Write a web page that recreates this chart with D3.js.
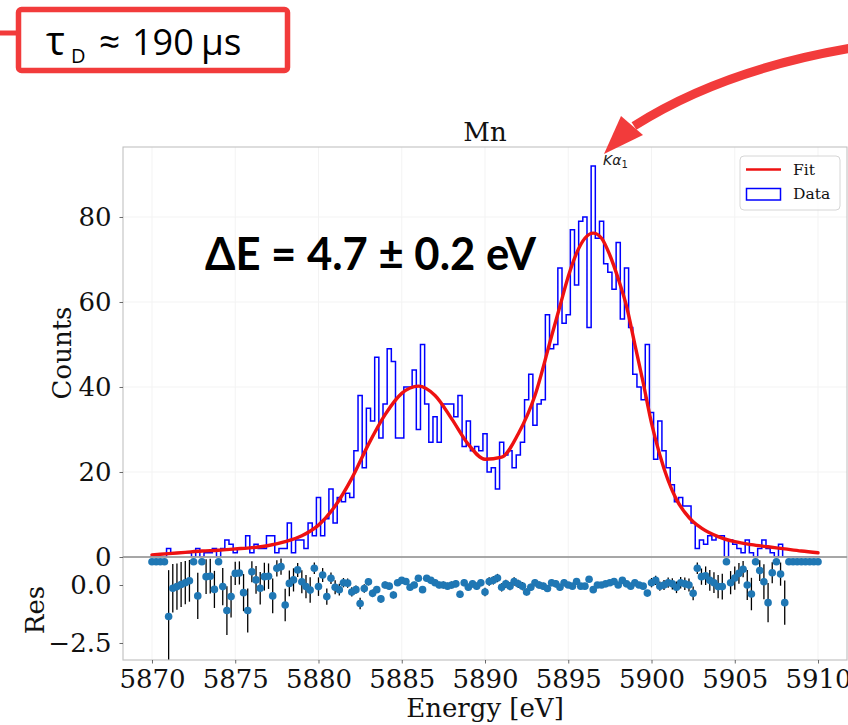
<!DOCTYPE html>
<html>
<head>
<meta charset="utf-8">
<script src="https://cdn.jsdelivr.net/npm/d3@7"></script>
<style>
  html, body { margin: 0; padding: 0; background: #ffffff; }
  svg { display: block; }
</style>
</head>
<body>
<svg id="chart" width="848" height="725"></svg>
<script>
// ---------------- data ----------------
// Histogram bins: 0.25 eV wide, first bin centred on 5870 eV
const binStart = 5870;
const binWidth = 0.25;
const counts = [
  0,0,0,0,2,1,1,1,1,1,
  0,2,0,1,1,2,0,2,4,3,
  1,2,2,5,1,3,2,2,5,5,
  1,2,2,8,1,4,4,2,8,5,
  14,5,9,16,8,14,13,15,14,25,
  38,21,35,32,47,28,36,49,46,28,
  28,40,40,44,30,50,36,27,33,27,
  36,36,36,33,38,26,32,25,26,25,
  29,20,21,16,27,24,25,21,24,27,
  37,43,31,36,37,57,49,50,68,55,
  57,77,64,79,80,54,92,75,79,69,
  67,63,74,56,68,54,43,40,37,50,
  34,23,32,25,21,17,13,14,12,12,
  8,2,4,3,5,4,5,5,0,4,
  3,2,1,4,1,0,2,4,2,1,
  0,3,0,0,0,0,0,0,0,0,0
];

// Fitted line profile (eV, counts)
const fitEnergy = [5870,5871,5872,5873,5874,5875,5876,5877,5878,5879,5880,5881,5882,5883,5884,5885,5886,5887,5888,5889,5890,5891,5892,5893,5894,5894.5,5895,5895.5,5896,5896.5,5897,5897.5,5898,5898.5,5899,5899.5,5900,5900.5,5901,5901.5,5902,5902.5,5903,5904,5905,5906,5907,5908,5909,5910];
const fitCounts = [0.5,0.8,1.1,1.4,1.6,1.9,2.2,2.7,3.6,5.0,7.5,12,18.5,26.5,33.5,38.5,40.2,38,32.5,26.5,23,23.5,29,38,52,59,66,71.5,75,76.2,75,71,65.5,59,50,41,31.5,24,18,13.5,10.5,8.3,6.8,4.8,3.6,2.9,2.4,1.9,1.4,1.0];

// Relative residual per bin and its error
const residuals = [
  1,1,1,1,-1.36,-0.14,-0.07,0.02,0.1,0.18,
  1,-0.47,1,0.36,0.38,-0.19,1,-0.07,-1.1,-0.5,
  0.5,0.52,-0.33,-1.1,0.57,0.22,-0.14,0.36,0.38,-0.47,
  0.72,0.79,-0.86,0.07,0.22,0.65,0.14,-0.07,-0.22,0.72,
  -0.07,0.43,-0.5,0.29,-0.1,-0.2,0.1,0.08,-0.3,-0.2,
  -0.8,-0.15,0.14,-0.36,-0.2,-0.6,0.0,-0.05,-0.43,0.1,
  0.2,0.15,-0.1,0.0,0.29,-0.2,0.29,0.2,0.1,0.0,
  0.0,-0.05,0.0,0.05,-0.4,0.1,-0.1,0.05,-0.05,0.1,
  -0.3,0.15,0.2,0.3,-0.1,0.05,-0.05,0.15,0.05,-0.05,
  -0.3,-0.1,0.1,0.0,-0.05,-0.15,0.1,0.05,-0.1,0.1,
  0.0,-0.05,0.15,-0.05,-0.05,0.25,-0.2,0.0,0.0,0.05,
  0.1,0.15,0.0,0.2,0.05,-0.05,0.1,0.0,-0.05,-0.35,
  0.1,0.2,-0.05,0.0,0.1,0.05,-0.1,0.1,0.05,0.0,
  -0.36,0.72,0.36,0.4,0.2,0.1,-0.07,-0.07,1,0.1,
  0.3,0.5,0.68,0.0,-0.39,1,0.62,0.14,-0.76,0.53,
  1,0.47,-0.76,1,1,1,1,1,1,1,1
];
const residualErrors = [
  0,0,0,0,2.0,1.05,1.0,0.97,0.93,0.9,
  0,1.0,0,0.75,0.75,0.8,0,0.8,1.05,0.9,
  0.5,0.5,0.8,0.95,0.45,0.6,0.7,0.6,0.55,0.75,
  0.35,0.35,0.7,0.55,0.5,0.3,0.5,0.5,0.55,0.25,
  0.4,0.3,0.35,0.25,0.3,0.25,0.2,0.2,0.2,0.18,
  0.25,0.18,0.16,0.16,0.15,0.16,0.15,0.15,0.15,0.14,
  0.14,0.14,0.14,0.14,0.14,0.14,0.14,0.14,0.14,0.14,
  0.15,0.15,0.15,0.15,0.15,0.15,0.15,0.15,0.15,0.15,
  0.18,0.18,0.18,0.18,0.18,0.18,0.18,0.18,0.18,0.18,
  0.15,0.15,0.15,0.15,0.15,0.15,0.15,0.15,0.15,0.15,
  0.12,0.12,0.12,0.12,0.12,0.12,0.12,0.12,0.12,0.12,
  0.13,0.13,0.13,0.13,0.13,0.13,0.13,0.13,0.13,0.13,
  0.2,0.2,0.2,0.22,0.22,0.24,0.25,0.25,0.27,0.28,
  0.3,0.25,0.35,0.4,0.45,0.45,0.5,0.55,0,0.5,
  0.5,0.45,0.35,0.65,0.7,0,0.45,0.75,0.85,0.45,
  0,0.5,0.95,0,0,0,0,0,0,0,0
];

const energyTicks = [5870,5875,5880,5885,5890,5895,5900,5905,5910];
const countTicks = [0,20,40,60,80];
const residualTicks = [0,-2.5];

// ---------------- layout ----------------
const svg = d3.select("#chart");
const L = 123, R = 847, T = 147, M = 557, B = 660;
const serif = "'DejaVu Serif', serif";

const x = d3.scaleLinear().domain([5868.26, 5911.74]).range([L, R]);
const yC = d3.scaleLinear().domain([0, 96.47]).range([M, T]);
const yR = d3.scaleLinear().domain([-3.233, 1.207]).range([B, M]);

const bins = counts.map((c, i) => ({
  centre: binStart + i * binWidth,
  count: c,
  res: residuals[i],
  err: residualErrors[i]
}));

// clip paths for the two panels
const defs = svg.append("defs");
defs.append("clipPath").attr("id", "clipMain")
  .append("rect").attr("x", L).attr("y", T).attr("width", R - L).attr("height", M - T);
defs.append("clipPath").attr("id", "clipRes")
  .append("rect").attr("x", L).attr("y", M).attr("width", R - L).attr("height", B - M);

// faint grid
const grid = svg.append("g").attr("stroke", "#f3f3f3").attr("stroke-width", 1);
energyTicks.forEach(e => {
  grid.append("line").attr("x1", x(e)).attr("x2", x(e)).attr("y1", T).attr("y2", B);
});
countTicks.forEach(c => {
  grid.append("line").attr("x1", L).attr("x2", R).attr("y1", yC(c)).attr("y2", yC(c));
});

// ---------------- main panel ----------------
const main = svg.append("g").attr("clip-path", "url(#clipMain)");

// step histogram outline
const stepPts = [[bins[0].centre - binWidth / 2, 0]];
bins.forEach(b => {
  stepPts.push([b.centre - binWidth / 2, b.count]);
  stepPts.push([b.centre + binWidth / 2, b.count]);
});
stepPts.push([bins[bins.length - 1].centre + binWidth / 2, 0]);

main.append("path")
  .datum(stepPts)
  .attr("fill", "none")
  .attr("stroke", "#0000ff")
  .attr("stroke-width", 1.5)
  .attr("stroke-linejoin", "miter")
  .attr("d", d3.line().x(d => x(d[0])).y(d => yC(d[1])));

// fit curve
const fitPts = fitEnergy.map((e, i) => [e, fitCounts[i]]);
main.append("path")
  .datum(fitPts)
  .attr("fill", "none")
  .attr("stroke", "#ee1111")
  .attr("stroke-width", 3.4)
  .attr("stroke-linecap", "round")
  .attr("d", d3.line().curve(d3.curveMonotoneX).x(d => x(d[0])).y(d => yC(d[1])));

// spines of the main panel
svg.append("rect").attr("x", L).attr("y", T).attr("width", R - L).attr("height", M - T)
  .attr("fill", "none").attr("stroke", "#bcbcbc").attr("stroke-width", 1);

// ---------------- residual panel ----------------
const resG = svg.append("g").attr("clip-path", "url(#clipRes)");
resG.selectAll("line.err")
  .data(bins.filter(b => b.err > 0))
  .join("line")
  .attr("class", "err")
  .attr("x1", b => x(b.centre)).attr("x2", b => x(b.centre))
  .attr("y1", b => yR(b.res - b.err)).attr("y2", b => yR(b.res + b.err))
  .attr("stroke", "#000").attr("stroke-width", 1.3);
resG.selectAll("circle")
  .data(bins)
  .join("circle")
  .attr("cx", b => x(b.centre))
  .attr("cy", b => yR(b.res))
  .attr("r", 3.8)
  .attr("fill", "#1f77b4");

svg.append("rect").attr("x", L).attr("y", M).attr("width", R - L).attr("height", B - M)
  .attr("fill", "none").attr("stroke", "#c4c4c4").attr("stroke-width", 1.2);
svg.append("line").attr("x1", L).attr("x2", R).attr("y1", M).attr("y2", M)
  .attr("stroke", "#808080").attr("stroke-width", 1);

// ---------------- axes ----------------
function styleAxis(g) {
  g.select(".domain").remove();
  g.selectAll(".tick line").attr("stroke", "#444").attr("stroke-width", 0.8);
  g.selectAll(".tick text").attr("font-family", serif).attr("font-size", 26).attr("fill", "#111");
}

svg.append("g").attr("transform", `translate(${L},0)`)
  .call(d3.axisLeft(yC).tickValues(countTicks).tickSize(3.5).tickPadding(8).tickFormat(d3.format("d")))
  .call(styleAxis);

svg.append("g").attr("transform", `translate(${L},0)`)
  .call(d3.axisLeft(yR).tickValues(residualTicks).tickSize(3.5).tickPadding(8).tickFormat(d3.format(".1f")))
  .call(styleAxis);

svg.append("g").attr("transform", `translate(0,${B})`)
  .call(d3.axisBottom(x).tickValues(energyTicks).tickSize(3.5).tickPadding(6).tickFormat(d3.format("d")))
  .call(styleAxis);

// axis titles
svg.append("text").attr("x", (L + R) / 2).attr("y", 717).attr("text-anchor", "middle")
  .attr("font-family", serif).attr("font-size", 26).attr("fill", "#111").text("Energy [eV]");
svg.append("text").attr("transform", "translate(71,353) rotate(-90)").attr("text-anchor", "middle")
  .attr("font-family", serif).attr("font-size", 26).attr("fill", "#111").text("Counts");
svg.append("text").attr("transform", "translate(44,610) rotate(-90)").attr("text-anchor", "middle")
  .attr("font-family", serif).attr("font-size", 26).attr("fill", "#111").text("Res");
svg.append("text").attr("x", (L + R) / 2).attr("y", 141).attr("text-anchor", "middle")
  .attr("font-family", serif).attr("font-size", 26).attr("fill", "#111").text("Mn");

// ---------------- legend ----------------
const lg = svg.append("g");
lg.append("rect").attr("x", 740).attr("y", 156).attr("width", 100).attr("height", 54).attr("rx", 4)
  .attr("fill", "#fff").attr("fill-opacity", 0.85).attr("stroke", "#d6d6d6").attr("stroke-width", 1);
lg.append("line").attr("x1", 746).attr("x2", 781).attr("y1", 169.5).attr("y2", 169.5)
  .attr("stroke", "#ee1111").attr("stroke-width", 2.5);
lg.append("rect").attr("x", 746.5).attr("y", 188.5).attr("width", 34).attr("height", 11.5)
  .attr("fill", "none").attr("stroke", "#0000ff").attr("stroke-width", 1.5);
lg.append("text").attr("x", 793).attr("y", 175).attr("font-family", serif).attr("font-size", 15.5)
  .attr("fill", "#111").text("Fit");
lg.append("text").attr("x", 793).attr("y", 199).attr("font-family", serif).attr("font-size", 15.5)
  .attr("fill", "#111").text("Data");

// ---------------- annotations ----------------
// line label
const ka = svg.append("text").attr("x", 603).attr("y", 165)
  .attr("font-family", "'DejaVu Sans', sans-serif").attr("font-size", 14).attr("fill", "#222");
ka.append("tspan").attr("font-style", "italic").text("Kα");
ka.append("tspan").attr("font-size", 10).attr("dy", 3).text("1");

// energy resolution
svg.append("text").attr("x", 205).attr("y", 270)
  .attr("font-family", "Lato, 'Open Sans', sans-serif").attr("font-weight", "bold")
  .attr("font-size", 45).attr("fill", "#000")
  .attr("textLength", 331).attr("lengthAdjust", "spacingAndGlyphs")
  .text("ΔE = 4.7 ± 0.2 eV");

// decay-time box
const red = "#f23b3b";
svg.append("line").attr("x1", 0).attr("x2", 19).attr("y1", 33).attr("y2", 33)
  .attr("stroke", red).attr("stroke-width", 5);
svg.append("rect").attr("x", 18.5).attr("y", 9.5).attr("width", 269).attr("height", 61).attr("rx", 3)
  .attr("fill", "#fff").attr("stroke", red).attr("stroke-width", 5.5);
const tau = svg.append("text").attr("y", 55)
  .attr("font-family", "'Open Sans', 'Noto Sans', sans-serif").attr("font-size", 37).attr("fill", "#000");
tau.append("tspan").attr("x", 46).attr("font-size", 40).text("τ");
tau.append("tspan").attr("x", 71).attr("dy", 8).attr("font-size", 20).text("D");
tau.append("tspan").attr("x", 99).attr("dy", -8).text("≈");
tau.append("tspan").attr("x", 132).attr("font-size", 36).text("190");
tau.append("tspan").attr("x", 201).text("μs");

// curved arrow pointing at the Kα1 peak
svg.append("path")
  .attr("d", "M 852,48 Q 722,70 634,126")
  .attr("fill", "none").attr("stroke", red).attr("stroke-width", 9);
svg.append("path")
  .attr("d", "M 604,154 L 621,116 L 643,135 Z")
  .attr("fill", red);
</script>
</body>
</html>
